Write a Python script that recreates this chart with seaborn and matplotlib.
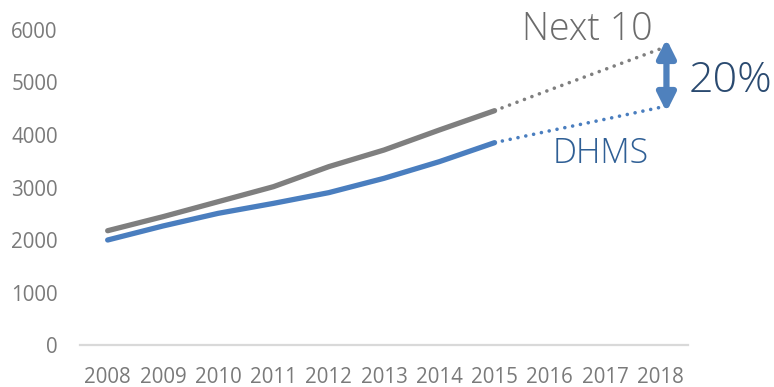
import matplotlib
matplotlib.use("Agg")
import matplotlib.pyplot as plt
import matplotlib.patheffects as pe
import pandas as pd
import seaborn as sns

# Yearly totals (2008-2015 actual) and projection to 2018
years = [2008, 2009, 2010, 2011, 2012, 2013, 2014, 2015]
next10 = [2177, 2444, 2730, 3016, 3397, 3714, 4095, 4463]
dhms = [2000, 2267, 2508, 2698, 2902, 3175, 3492, 3854]

proj_years = [2015, 2016, 2017, 2018]
next10_proj = [4463, 4860, 5250, 5640]
dhms_proj = [3854, 4080, 4300, 4527]

all_years = list(range(2008, 2019))
y_ticks = [0, 1000, 2000, 3000, 4000, 5000, 6000]

GRAY = "#7f7f7f"
BLUE = "#4a7ebf"

sns.set_theme(style="white")
plt.rcParams["font.family"] = ["Open Sans", "DejaVu Sans"]

fig = plt.figure(figsize=(7.74, 3.87), dpi=100)
ax = fig.add_axes([0.1034, 0.1085, 0.7855, 0.814])

actual = pd.DataFrame({"year": years, "Next 10": next10, "DHMS": dhms})
proj = pd.DataFrame({"year": proj_years, "Next 10": next10_proj, "DHMS": dhms_proj})

for col, color in [("Next 10", GRAY), ("DHMS", BLUE)]:
    sns.lineplot(data=actual, x="year", y=col, ax=ax, color=color,
                 linewidth=3.8, solid_capstyle="round", legend=False)
    sns.lineplot(data=proj, x="year", y=col, ax=ax, color=color,
                 linewidth=2.6, linestyle=(0, (0.01, 2.2)),
                 dash_capstyle="round", legend=False)

ax.set_xlim(2007.5, 2018.5)
ax.set_ylim(0, 6000)
ax.set_xticks(all_years)
ax.set_xticklabels([str(y) for y in all_years])
ax.set_yticks(y_ticks)
ax.set_xlabel("")
ax.set_ylabel("")
ax.tick_params(axis="both", length=0, labelsize=14.8, labelcolor="#7a7a7a")
ax.tick_params(axis="y", pad=16)
ax.tick_params(axis="x", pad=16)

for side in ["top", "right", "left"]:
    ax.spines[side].set_visible(False)
ax.spines["bottom"].set_color("#d9d9d9")
ax.spines["bottom"].set_linewidth(1.6)

# Series labels and gap annotation
ax.text(2017.86, 5810, "Next 10", ha="right", va="baseline", fontsize=27,
        color="#6b6b6b", fontweight="light", clip_on=False)
ax.text(2016.05, 3467, "DHMS", ha="left", va="baseline", fontsize=24.5,
        color="#2f5f95", fontweight="light", clip_on=False)
ax.text(2018.52, 4819, "20%", ha="left", va="baseline", fontsize=31,
        color="#2a4a70", fontweight="light", clip_on=False)

ax.annotate("", xy=(2018.11, 5829), xytext=(2018.11, 4438),
            arrowprops=dict(arrowstyle="<|-|>,head_length=0.9,head_width=0.45",
                            color="#4f81bd", lw=4.5, shrinkA=0, shrinkB=0,
                            path_effects=[pe.SimplePatchShadow(offset=(1.5, -1.5), alpha=0.35,
                                                               shadow_rgbFace="#888888"),
                                          pe.Normal()]),
            annotation_clip=False)

fig.savefig("out.png", dpi=100)
